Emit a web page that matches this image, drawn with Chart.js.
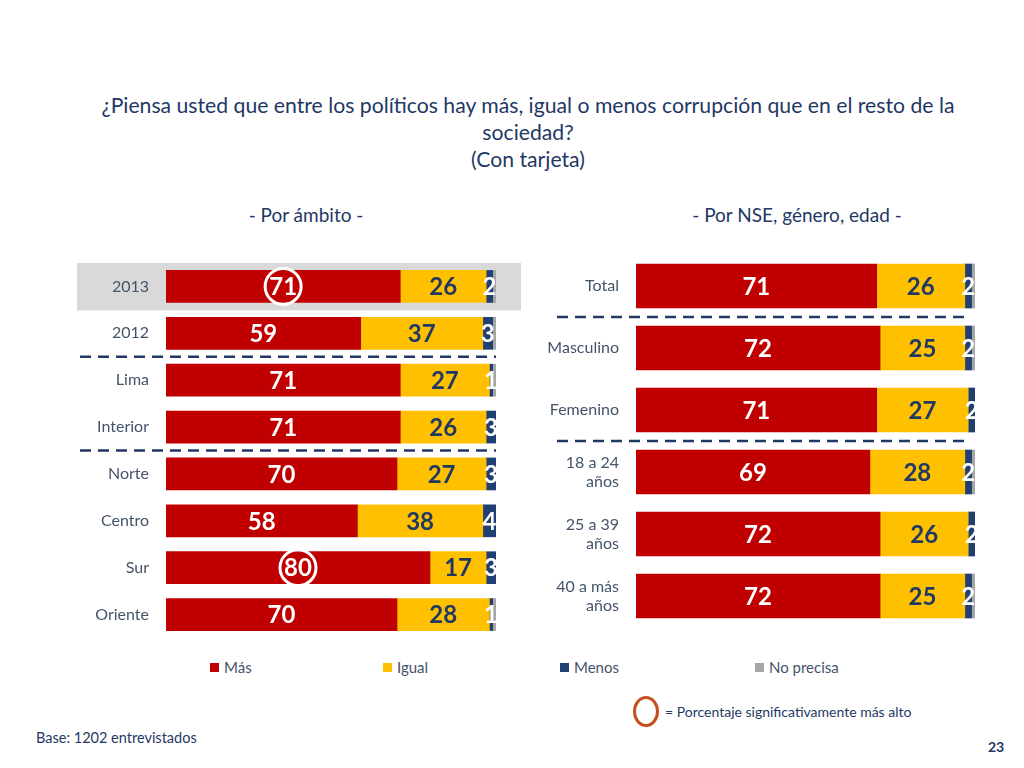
<!DOCTYPE html>
<html><head><meta charset="utf-8">
<script src="https://cdn.jsdelivr.net/npm/chart.js@4.4.1/dist/chart.umd.min.js"></script>
<style>
body{margin:0;width:1024px;height:768px;background:#fff;position:relative;overflow:hidden;font-family:Lato,'Open Sans',sans-serif;}
.abs{position:absolute;white-space:nowrap;}
#title{left:28px;width:1000px;top:92px;text-align:center;font-size:21.2px;line-height:27px;color:#1f3864;}
.sub{top:203px;font-size:19px;color:#1f3864;text-align:center;width:400px;}
#legend{left:0;top:658px;width:1024px;height:22px;}
.lg{position:absolute;font-size:15px;color:#44546a;display:flex;align-items:center;}
.lg span.sq{display:inline-block;width:9px;height:9px;margin-right:5px;}
#note{left:633px;top:696px;font-size:14px;color:#1f3864;display:flex;align-items:center;}
#note .ring{width:20px;height:25px;border:3px solid #c5501e;border-radius:50%;margin-right:6px;}
#base{left:36px;top:729px;font-size:14.5px;color:#1f3864;}
#page{left:988px;top:738px;font-size:14px;font-weight:bold;color:#1f3864;}
</style></head>
<body>
<div id="title" class="abs">¿Piensa usted que entre los políticos hay más, igual o menos corrupción que en el resto de la<br>sociedad?<br>(Con tarjeta)</div>
<div class="abs sub" style="left:106px;">- Por ámbito -</div>
<div class="abs sub" style="left:597px;">- Por NSE, género, edad -</div>
<canvas id="c1" class="abs" style="left:0px;top:263px;"></canvas>
<canvas id="c2" class="abs" style="left:530px;top:255px;"></canvas>
<div id="legend" class="abs"></div>
<div id="note" class="abs"><div class="ring"></div>= Porcentaje significativamente más alto</div>
<div id="base" class="abs">Base: 1202 entrevistados</div>
<div id="page" class="abs">23</div>
<script>
// ---- data ----
const seriesNames = ['Más', 'Igual', 'Menos', 'No precisa'];

const ambitoCategories = ['2013', '2012', 'Lima', 'Interior', 'Norte', 'Centro', 'Sur', 'Oriente'];
const ambitoMas       = [71, 59, 71, 71, 70, 58, 80, 70];
const ambitoIgual     = [26, 37, 27, 26, 27, 38, 17, 28];
const ambitoMenos     = [2, 3, 1, 3, 3, 4, 3, 1];
const ambitoNoPrecisa = [1, 1, 1, 0, 0, 0, 0, 1];
const ambitoCircled   = [0, 6];          // indices of "Más" values circled
const ambitoHighlighted = [0];           // row with grey band
const ambitoSeparators = [1, 3];         // dashed line after these rows

const nseCategories = ['Total', 'Masculino', 'Femenino', ['18 a 24', 'años'], ['25 a 39', 'años'], ['40 a más', 'años']];
const nseMas       = [71, 72, 71, 69, 72, 72];
const nseIgual     = [26, 25, 27, 28, 26, 25];
const nseMenos     = [2, 2, 2, 2, 2, 2];
const nseNoPrecisa = [1, 1, 0, 1, 0, 1];
const nseSeparators = [0, 2];

// ---- styles ----
const seriesColors = ['#c00000', '#ffc000', '#203f73', '#a6a6a6'];
const labelColors = ['#ffffff', '#1f3864', '#ffffff', null];

const bandPlugin = {
  id: 'band',
  beforeDraw(chart, args, o) {
    if (!o.rows) return;
    const ctx = chart.ctx, y = chart.scales.y;
    ctx.save();
    ctx.fillStyle = '#d9d9d9';
    o.rows.forEach(r => {
      const c = y.getPixelForValue(r);
      ctx.fillRect(o.x0, c - o.half, o.x1 - o.x0, o.half * 2);
    });
    ctx.restore();
  }
};
const sepPlugin = {
  id: 'seps',
  afterDraw(chart, args, o) {
    const ctx = chart.ctx, y = chart.scales.y;
    ctx.save();
    ctx.strokeStyle = '#1f3864';
    ctx.lineWidth = 2.5;
    ctx.setLineDash([11, 7]);
    (o.after || []).forEach(r => {
      const py = (y.getPixelForValue(r) + y.getPixelForValue(r + 1)) / 2;
      ctx.beginPath();
      ctx.moveTo(o.x0, py); ctx.lineTo(o.x1, py);
      ctx.stroke();
    });
    ctx.restore();
  }
};
const valuePlugin = {
  id: 'values',
  afterDatasetsDraw(chart, args, o) {
    const ctx = chart.ctx;
    ctx.save();
    ctx.font = 'bold ' + o.size + 'px Lato, "Open Sans", sans-serif';
    ctx.textAlign = 'center';
    ctx.textBaseline = 'middle';
    chart.data.datasets.forEach((ds, di) => {
      if (!labelColors[di]) return;
      chart.getDatasetMeta(di).data.forEach((bar, i) => {
        const v = ds.data[i];
        if (!v) return;
        ctx.fillStyle = labelColors[di];
        ctx.fillText(String(v), (bar.x + bar.base) / 2, bar.y + 1);
      });
    });
    (o.circled || []).forEach(i => {
      const bar = chart.getDatasetMeta(0).data[i];
      ctx.strokeStyle = '#ffffff';
      ctx.lineWidth = 3;
      ctx.beginPath();
      ctx.arc((bar.x + bar.base) / 2, bar.y, 18, 0, Math.PI * 2);
      ctx.stroke();
    });
    ctx.restore();
  }
};

function makeChart(id, w, h, cats, vals, axisW, padRight, thick, opts) {
  const cv = document.getElementById(id);
  cv.style.width = w + 'px'; cv.style.height = h + 'px';
  cv.width = w; cv.height = h;
  return new Chart(cv, {
    type: 'bar',
    data: {
      labels: cats,
      datasets: vals.map((d, i) => ({
        label: seriesNames[i], data: d, backgroundColor: seriesColors[i],
        barThickness: thick, borderWidth: 0
      }))
    },
    options: {
      indexAxis: 'y', responsive: false, animation: false, devicePixelRatio: 1,
      layout: { padding: { left: 0, right: padRight, top: 0, bottom: 0 } },
      scales: {
        x: { stacked: true, min: 0, max: 100, display: false },
        y: {
          stacked: true,
          grid: { display: false }, border: { display: false },
          ticks: { color: '#44546a', font: { family: 'Lato, "Open Sans", sans-serif', size: 16 }, padding: 9, lineHeight: 1.3 },
          afterFit(s) { s.width = axisW; s.paddingTop = 0; s.paddingBottom = 0; }
        }
      },
      plugins: Object.assign({ legend: { display: false }, tooltip: { enabled: false } }, opts)
    },
    plugins: [bandPlugin, sepPlugin, valuePlugin]
  });
}

makeChart('c1', 530, 375, ambitoCategories,
  [ambitoMas, ambitoIgual, ambitoMenos, ambitoNoPrecisa], 166, 34, 32, {
    band: { rows: ambitoHighlighted, x0: 77, x1: 521, half: 24 },
    seps: { after: ambitoSeparators, x0: 80, x1: 496 },
    values: { size: 24, circled: ambitoCircled }
  });

makeChart('c2', 470, 372, nseCategories,
  [nseMas, nseIgual, nseMenos, nseNoPrecisa], 106, 25, 44, {
    band: {},
    seps: { after: nseSeparators, x0: 27, x1: 440 },
    values: { size: 24, circled: [] }
  });

// legend
const legendLeft = [210, 383, 560, 755];
const lg = document.getElementById('legend');
seriesNames.forEach((n, i) => {
  const d = document.createElement('div');
  d.className = 'lg';
  d.style.left = legendLeft[i] + 'px';
  d.innerHTML = '<span class="sq" style="background:' + seriesColors[i] + '"></span>' + n;
  lg.appendChild(d);
});
</script>
</body></html>
